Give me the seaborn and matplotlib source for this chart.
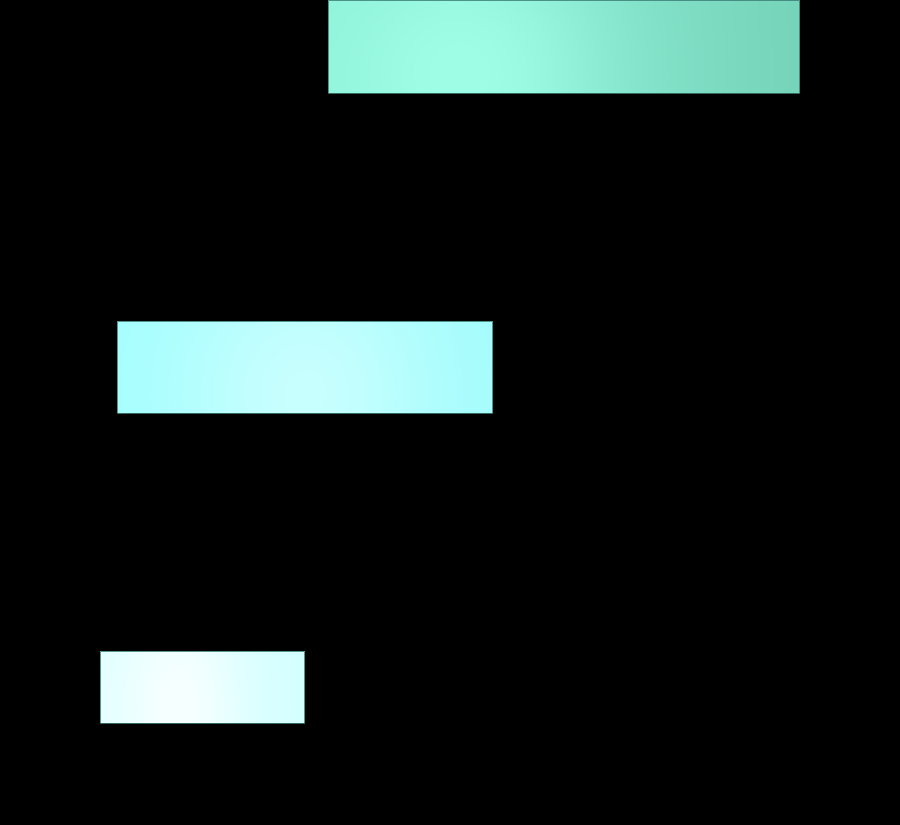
import numpy as np
import pandas as pd
import matplotlib
matplotlib.use("Agg")
import matplotlib.pyplot as plt
from matplotlib.colors import to_rgb
import seaborn as sns

# Floating bars: each stage runs from a start value to an end value
stages = ["Stage 1", "Stage 2", "Stage 3"]
starts = [36.45, 13.0, 11.1]
ends = [88.8, 54.7, 33.8]
thickness = [0.29, 0.29, 0.225]

# gradient per bar: left edge, right edge, highlight colour and its position
grad_left = ["#8cefd6", "#a4ffff", "#e0ffff"]
grad_right = ["#76d4ba", "#a2fcfc", "#d4ffff"]
grad_peak = ["#9efee6", "#c8ffff", "#f7ffff"]
peak_pos = [0.28, 0.50, 0.38]
peak_spread = [0.32, 0.35, 0.30]

df = pd.DataFrame({"stage": stages, "start": starts, "end": ends})

sns.set_theme(style="dark")
fig = plt.figure(figsize=(9, 8.25), dpi=100, facecolor="black")
ax = fig.add_axes([0, 0, 1, 1])
ax.set_facecolor("black")

sns.barplot(data=df, x="end", y="stage", orient="h", ax=ax, color="white")

for i, patch in enumerate(ax.patches):
    h = thickness[i]
    patch.set_x(starts[i])
    patch.set_width(ends[i] - starts[i])
    patch.set_y(i - h / 2)
    patch.set_height(h)
    patch.set_facecolor("none")
    patch.set_edgecolor("#3f7f76")
    patch.set_linewidth(0.6)

    # soft radial-ish highlight over a left-to-right base gradient
    xs = np.linspace(0, 1, 300)[None, :]
    ys = np.linspace(0, 1, 60)[:, None]
    left = np.array(to_rgb(grad_left[i]))
    right = np.array(to_rgb(grad_right[i]))
    peak = np.array(to_rgb(grad_peak[i]))
    base = left + (right - left) * xs[..., None]
    d2 = ((xs - peak_pos[i]) / peak_spread[i]) ** 2 + ((ys - 0.8) / 1.6) ** 2
    w = np.exp(-d2)[..., None]
    img = np.clip(base * (1 - w) + peak * w, 0, 1)
    im = ax.imshow(img, extent=(starts[i], ends[i], i + h / 2, i - h / 2),
                   origin="upper", aspect="auto", interpolation="bilinear", zorder=1)
    im.set_clip_path(patch)
    patch.set_zorder(2)

ax.set_xlim(0, 100)
ax.set_ylim(2.430, -0.146)
ax.axis("off")

fig.savefig("out.png", dpi=100, facecolor="black")
